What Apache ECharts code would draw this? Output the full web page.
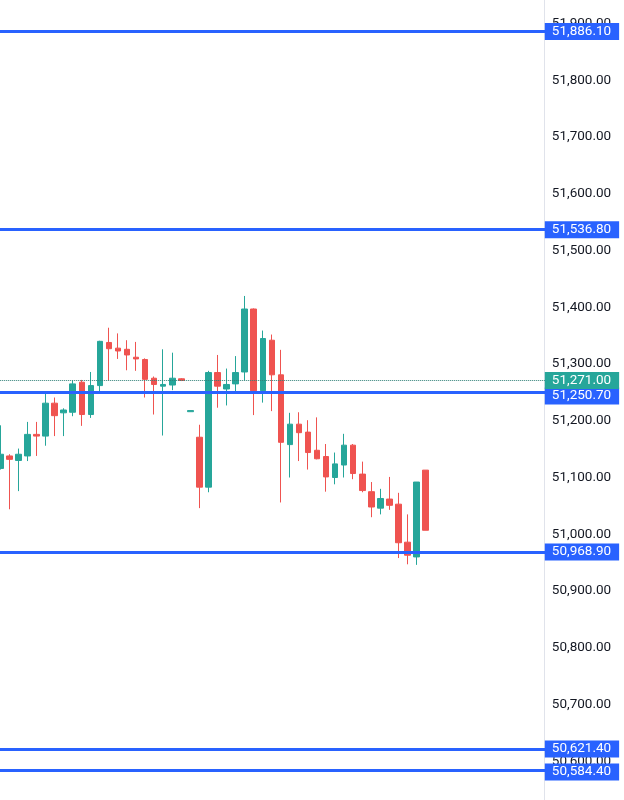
<!DOCTYPE html>
<html>
<head>
<meta charset="utf-8">
<script src="https://cdn.jsdelivr.net/npm/echarts@6/dist/echarts.min.js"></script>
<style>
  html, body { margin: 0; padding: 0; background: #ffffff; }
  #chart { width: 624px; height: 800px; }
</style>
</head>
<body>
<div id="chart"></div>
<script>
// candles, [open, close, low, high]
var candles = [
    [51116, 51141, 51114, 51192],
    [51138, 51132, 51044, 51141],
    [51130, 51141, 51076, 51151],
    [51138, 51176, 51129, 51198],
    [51176, 51173, 51138, 51198],
    [51173, 51231, 51156, 51249],
    [51231, 51209, 51173, 51241],
    [51214, 51219, 51173, 51222],
    [51215, 51265, 51208, 51271],
    [51268, 51211, 51191, 51272],
    [51211, 51262, 51205, 51286],
    [51262, 51340, 51251, 51341],
    [51338, 51327, 51271, 51364],
    [51328, 51323, 51309, 51354],
    [51326, 51316, 51289, 51342],
    [51312, 51309, 51288, 51339],
    [51308, 51273, 51241, 51310],
    [51275, 51264, 51211, 51278],
    [51261, 51264, 51174, 51326],
    [51263, 51275, 51254, 51320],
    [51274, 51271, 51270, 51275],
    [51216, 51218, 51216, 51218],
    [51171, 51083, 51046, 51193],
    [51083, 51285, 51074, 51288],
    [51285, 51261, 51223, 51316],
    [51256, 51264, 51227, 51292],
    [51265, 51285, 51251, 51314],
    [51286, 51397, 51271, 51420],
    [51397, 51253, 51210, 51398],
    [51253, 51345, 51232, 51359],
    [51342, 51281, 51217, 51352],
    [51281, 51162, 51056, 51325],
    [51158, 51194, 51100, 51214],
    [51194, 51179, 51129, 51215],
    [51180, 51144, 51114, 51201],
    [51148, 51133, 51132, 51206],
    [51137, 51101, 51075, 51159],
    [51100, 51124, 51088, 51144],
    [51122, 51157, 51100, 51177],
    [51157, 51107, 51097, 51159],
    [51106, 51077, 51074, 51128],
    [51075, 51048, 51030, 51092],
    [51046, 51063, 51035, 51080],
    [51062, 51051, 51043, 51101],
    [51053, 50985, 50958, 51073],
    [50986, 50963, 50947, 51035],
    [50960, 51092, 50946, 51092],
    [51113, 51007, 51007, 51113]
];
var emptySlots = 13;
var levels = [51886.10, 51536.80, 51250.70, 50968.90, 50621.40, 50584.40];
var lastPrice = 51271.00;
var yMin = 50500, yMax = 52000, yStep = 100;

var categories = [];
for (let i = 0; i < candles.length + emptySlots; i++) {
    categories.push(String(i));
}

function fmt(v) {
    return Number(v).toLocaleString('en-US', { minimumFractionDigits: 2, maximumFractionDigits: 2 });
}

var myChart = echarts.init(document.getElementById('chart'));

var labelBox = {
    show: true,
    position: 'end',
    distance: -3,
    color: '#ffffff',
    fontSize: 13.5,
    fontFamily: 'Roboto, "Liberation Sans", sans-serif',
    lineHeight: 13,
    padding: [2, 8, 2, 7],
    formatter: function (p) { return fmt(p.value); }
};

// labels that sit too close get nudged apart, like the trading app does
var nudge = { 51250.70: 4, 50584.40: 2 };

var lineData = [];
for (let i = 0; i < levels.length; i++) {
    lineData.push({
        yAxis: levels[i],
        lineStyle: { color: '#2962ff', width: 3, type: 'solid' },
        label: Object.assign({}, labelBox, {
            backgroundColor: '#2962ff',
            offset: [0, nudge[levels[i]] || 0]
        })
    });
}
lineData.push({
    yAxis: lastPrice,
    lineStyle: { color: '#2f7f76', width: 1, type: 'dotted' },
    label: Object.assign({}, labelBox, { backgroundColor: '#26a69a' })
});

option = {
    animation: false,
    backgroundColor: '#ffffff',
    grid: {
        left: -4.2,
        top: -33.1,
        width: 552,
        height: 851,
        containLabel: false,
        outerBoundsMode: 'none'
    },
    xAxis: {
        type: 'category',
        data: categories,
        show: false,
        boundaryGap: true
    },
    yAxis: {
        type: 'value',
        position: 'right',
        offset: -4,
        min: yMin,
        max: yMax,
        interval: yStep,
        splitLine: { show: false },
        axisTick: { show: false },
        axisLine: { show: true, lineStyle: { color: '#e0e3eb', width: 1 } },
        axisLabel: {
            margin: 8,
            color: '#131722',
            fontSize: 13.5,
            fontFamily: 'Roboto, "Liberation Sans", sans-serif',
            formatter: function (v) { return fmt(v); }
        }
    },
    series: [
        {
            type: 'candlestick',
            data: candles,
            barWidth: 6,
            itemStyle: {
                color: '#26a69a',
                color0: '#ef5350',
                borderColor: '#26a69a',
                borderColor0: '#ef5350',
                borderWidth: 1
            },
            markLine: {
                silent: true,
                symbol: ['none', 'none'],
                data: lineData
            }
        }
    ]
};

myChart.setOption(option);
</script>
</body>
</html>
